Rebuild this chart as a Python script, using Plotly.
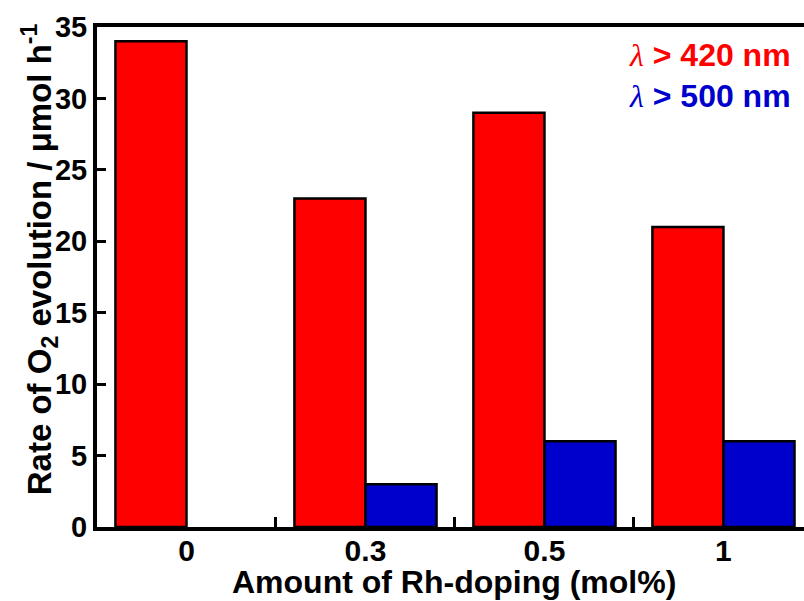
import plotly.graph_objects as go

# Rh-doping amounts (mol%) and O2 evolution rates (umol/h)
doping = ["0", "0.3", "0.5", "1"]
rate_420 = [34, 23, 29, 21]
rate_500 = [None, 3, 6, 6]

FONT = "Liberation Sans, Arial, sans-serif"
RED = "#FF0000"
BLUE = "#0000CC"

fig = go.Figure()
fig.add_trace(go.Bar(x=doping, y=rate_420, name="λ > 420 nm",
                     marker=dict(color=RED, line=dict(color="black", width=2.5))))
fig.add_trace(go.Bar(x=doping, y=rate_500, name="λ > 500 nm",
                     marker=dict(color=BLUE, line=dict(color="black", width=2.5))))

fig.update_layout(
    width=804, height=601,
    margin=dict(l=97, r=0, t=27, b=74),
    paper_bgcolor="white", plot_bgcolor="white",
    barmode="group", bargap=0.206, bargroupgap=0,
    showlegend=False,
    font=dict(family=FONT, size=29, color="black"),
)

fig.update_xaxes(
    type="category", range=[-0.5, 3.45],
    showline=True, linecolor="black", linewidth=4, mirror=True,
    ticks="inside", ticklen=10, tickwidth=3, tickcolor="black",
    tickson="boundaries", showgrid=False, zeroline=False,
    tickfont=dict(family=FONT, size=30, color="black", weight="bold"),
    ticklabelstandoff=-6,
    automargin=False,
)
fig.update_yaxes(
    range=[0, 35], dtick=5,
    showline=True, linecolor="black", linewidth=4,
    ticks="inside", ticklen=9, tickwidth=3, tickcolor="black",
    showgrid=False, zeroline=False,
    tickfont=dict(family=FONT, size=29, color="black", weight="bold"),
    automargin=False,
)

# axis titles, placed as annotations around the plot area
fig.add_annotation(x=0.505, y=-0.109, xref="paper", yref="paper",
                   xanchor="center", yanchor="middle", showarrow=False,
                   text="<b>Amount of Rh-doping (mol%)</b>",
                   font=dict(family=FONT, size=32, color="black"))
fig.add_annotation(x=-0.081, y=0.535, xref="paper", yref="paper",
                   xanchor="center", yanchor="middle", textangle=-90,
                   showarrow=False,
                   text="<b>Rate of O<sub>2</sub> evolution / μmol h<sup>-1</sup></b>",
                   font=dict(family=FONT, size=33, color="black"))

lam = "<span style='font-family:Liberation Serif;font-weight:normal'><i>λ</i></span>"
fig.add_annotation(x=0.985, y=0.945, xref="paper", yref="paper", xanchor="right",
                   yanchor="middle", showarrow=False,
                   text=f"{lam}<b> &gt; 420 nm</b>",
                   font=dict(family=FONT, size=32, color=RED))
fig.add_annotation(x=0.985, y=0.862, xref="paper", yref="paper", xanchor="right",
                   yanchor="middle", showarrow=False,
                   text=f"{lam}<b> &gt; 500 nm</b>",
                   font=dict(family=FONT, size=32, color=BLUE))

fig.write_html("out.html")
